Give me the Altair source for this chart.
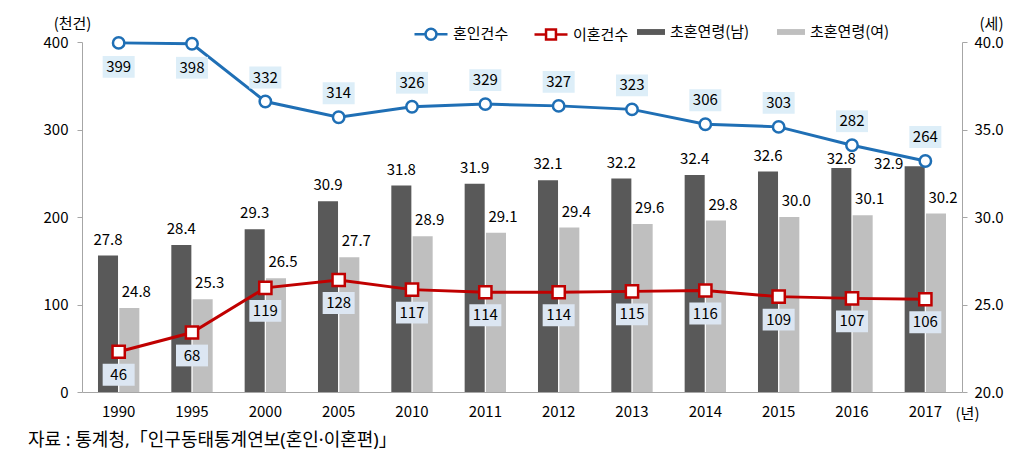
import altair as alt
import pandas as pd

years = ["1990", "1995", "2000", "2005", "2010", "2011", "2012", "2013", "2014", "2015", "2016", "2017"]
marriage = [399, 398, 332, 314, 326, 329, 327, 323, 306, 303, 282, 264]
divorce = [46, 68, 119, 128, 117, 114, 114, 115, 116, 109, 107, 106]
male_age = [27.8, 28.4, 29.3, 30.9, 31.8, 31.9, 32.1, 32.2, 32.4, 32.6, 32.8, 32.9]
female_age = [24.8, 25.3, 26.5, 27.7, 28.9, 29.1, 29.4, 29.6, 29.8, 30.0, 30.1, 30.2]

line_series = ["혼인건수", "이혼건수"]
bar_series = ["초혼연령(남)", "초혼연령(여)"]
source_text = "자료 : 통계청,「인구동태통계연보(혼인·이혼편)」"

FONT = "Noto Sans CJK KR"
TITLE_FONT = "'Noto Sans', 'Noto Sans CJK KR'"
BLUE = "#1f6fb5"
RED = "#c00000"
DARK = "#595959"
LIGHT = "#bfbfbf"
AXIS_GRAY = "#a6a6a6"

bars_df = pd.DataFrame(
    [{"year": y, "group": bar_series[0], "age": v} for y, v in zip(years, male_age)]
    + [{"year": y, "group": bar_series[1], "age": v} for y, v in zip(years, female_age)]
)
lines_df = pd.DataFrame(
    [{"year": y, "series": line_series[0], "count": v} for y, v in zip(years, marriage)]
    + [{"year": y, "series": line_series[1], "count": v} for y, v in zip(years, divorce)]
)

x_enc = alt.X(
    "year:N",
    sort=years,
    scale=alt.Scale(paddingInner=0, paddingOuter=0),
    axis=alt.Axis(
        title="(년)", titleAngle=0, titleX=885, titleY=21, titleAlign="center",
        titleBaseline="middle", titleFontSize=15, titleFontWeight="normal", titleColor="#000",
        labelAngle=0, labelFontSize=15, labelColor="#000", labelPadding=12,
        ticks=False, domainColor=AXIS_GRAY, grid=False,
    ),
)
xoff = alt.XOffset(
    "group:N", sort=bar_series,
    scale=alt.Scale(domain=bar_series, paddingInner=0.06, paddingOuter=0.75),
)

y_age = alt.Y(
    "age:Q",
    scale=alt.Scale(domain=[20, 40], zero=False, nice=False),
    axis=alt.Axis(
        orient="right", values=[20, 25, 30, 35, 40], format=".1f",
        title="(세)", titleAngle=0, titleX=29, titleY=-19, titleAlign="center",
        titleBaseline="middle", titleFontSize=15, titleFontWeight="normal", titleColor="#000",
        labelFontSize=15, labelColor="#000", labelPadding=7, tickSize=5,
        tickColor=AXIS_GRAY, domainColor=AXIS_GRAY, grid=False,
    ),
)
y_cnt = alt.Y(
    "count:Q",
    scale=alt.Scale(domain=[0, 400], nice=False),
    axis=alt.Axis(
        orient="left", values=[0, 100, 200, 300, 400],
        title="(천건)", titleAngle=0, titleX=-10, titleY=-19, titleAlign="center",
        titleBaseline="middle", titleFontSize=15, titleFontWeight="normal", titleColor="#000",
        labelFontSize=15, labelColor="#000", labelPadding=9, tickSize=5,
        tickColor=AXIS_GRAY, domainColor=AXIS_GRAY, grid=False,
    ),
)

bar_base = alt.Chart(bars_df)
bars = bar_base.mark_bar().encode(
    x=x_enc, xOffset=xoff, y=y_age, y2=alt.datum(20),
    color=alt.Color(
        "group:N",
        scale=alt.Scale(domain=bar_series, range=[DARK, LIGHT]),
        legend=alt.Legend(
            title=None, orient="none", direction="horizontal", columns=2,
            legendX=555, legendY=-24, symbolType="M-1,-0.21H1V0.21H-1Z",
            symbolSize=784, symbolStrokeWidth=0, columnPadding=27, labelOffset=5,
            labelFont=FONT, labelFontSize=15, labelColor="#000",
        ),
    ),
)

last_year = years[-1]
prev_year = years[-2]


def age_text(filt, dx, dy):
    return bar_base.transform_filter(filt).mark_text(
        dx=dx, dy=dy, fontSize=15, color="#000", baseline="middle"
    ).encode(x=x_enc, xOffset=xoff, y=y_age, text=alt.Text("age:Q", format=".1f"))


male = alt.datum.group == bar_series[0]
female = alt.datum.group == bar_series[1]
male_text = age_text(
    {"and": [male, alt.FieldOneOfPredicate(field="year", oneOf=years[:-2])]}, 0, -16
)
male_text_prev = age_text({"and": [male, alt.datum.year == prev_year]}, 0, -9)
male_text_last = age_text({"and": [male, alt.datum.year == last_year]}, -26, -2)
female_text = age_text(female, 7, -16)

bars_group = alt.layer(bars, male_text, male_text_prev, male_text_last, female_text)

lb = alt.Chart(lines_df)
m_filter = alt.datum.series == line_series[0]
d_filter = alt.datum.series == line_series[1]

m_line = lb.transform_filter(m_filter).mark_line(color=BLUE, strokeWidth=3).encode(x=x_enc, y=y_cnt)
d_line = lb.transform_filter(d_filter).mark_line(color=RED, strokeWidth=3).encode(x=x_enc, y=y_cnt)

BOX_PATH = "M-1,-0.68H1V0.68H-1Z"


def label_layers(filt, offset, box_color):
    box = lb.transform_filter(filt).mark_point(
        shape=BOX_PATH, size=1024, filled=True, fill=box_color, opacity=1,
        strokeWidth=0, yOffset=offset,
    ).encode(x=x_enc, y=y_cnt)
    txt = lb.transform_filter(filt).mark_text(
        dy=offset, fontSize=15, color="#000", baseline="middle"
    ).encode(x=x_enc, y=y_cnt, text="count:Q")
    return [box, txt]


m_below = alt.FieldGTEPredicate(field="count", gte=390)
m_above = alt.FieldLTPredicate(field="count", lt=390)

labels = []
labels += label_layers({"and": [m_filter, m_below]}, 24, "#ddeef8")
labels += label_layers({"and": [m_filter, m_above]}, -24, "#ddeef8")
labels += label_layers(d_filter, 23, "#dce6f2")

m_pts = lb.transform_filter(m_filter).mark_point(
    shape="circle", size=130, filled=True, fill="white", stroke=BLUE, strokeWidth=2.5, opacity=1
).encode(x=x_enc, y=y_cnt)
d_pts = lb.transform_filter(d_filter).mark_point(
    shape="square", size=150, filled=True, fill="white", stroke=RED, strokeWidth=2.5, opacity=1
).encode(x=x_enc, y=y_cnt)

CIRCLE_SYM = "M-1,0H-0.33M0.33,0H1M0.33,0A0.33,0.33,0,1,1,-0.33,0A0.33,0.33,0,1,1,0.33,0Z"
SQUARE_SYM = "M-1,0H-0.3M0.3,0H1M-0.3,-0.3H0.3V0.3H-0.3Z"

line_legend = alt.Legend(
    title=None, orient="none", direction="horizontal", columns=2,
    legendX=331, legendY=-26, symbolSize=1089, symbolStrokeWidth=2.5,
    symbolFillColor="white", symbolOpacity=1, columnPadding=20, labelOffset=4,
    labelFont=FONT, labelFontSize=15, labelColor="#000",
)

legend_pts = lb.mark_point(opacity=0, filled=False).encode(
    x=x_enc, y=y_cnt,
    color=alt.Color(
        "series:N",
        scale=alt.Scale(domain=line_series, range=[BLUE, RED]),
        legend=line_legend,
    ),
    shape=alt.Shape(
        "series:N",
        scale=alt.Scale(domain=line_series, range=[CIRCLE_SYM, SQUARE_SYM]),
        legend=line_legend,
    ),
)

lines_group = alt.layer(m_line, d_line, *labels, m_pts, d_pts, legend_pts)

chart = (
    alt.layer(bars_group, lines_group)
    .resolve_scale(y="independent", color="independent", shape="independent")
    .properties(
        width=880, height=350,
        padding={"left": 74, "top": 34, "right": 54, "bottom": 62},
        autosize=alt.AutoSizeParams(type="none"),
        title=alt.TitleParams(
            source_text, orient="bottom", anchor="start", frame="group", dx=-54,
            offset=11, fontSize=18, fontWeight="normal", color="#000", font=TITLE_FONT,
        ),
    )
    .configure(font=FONT)
    .configure_view(stroke=None)
)

chart.save("out.html", embed_options={"renderer": "svg", "actions": False})
